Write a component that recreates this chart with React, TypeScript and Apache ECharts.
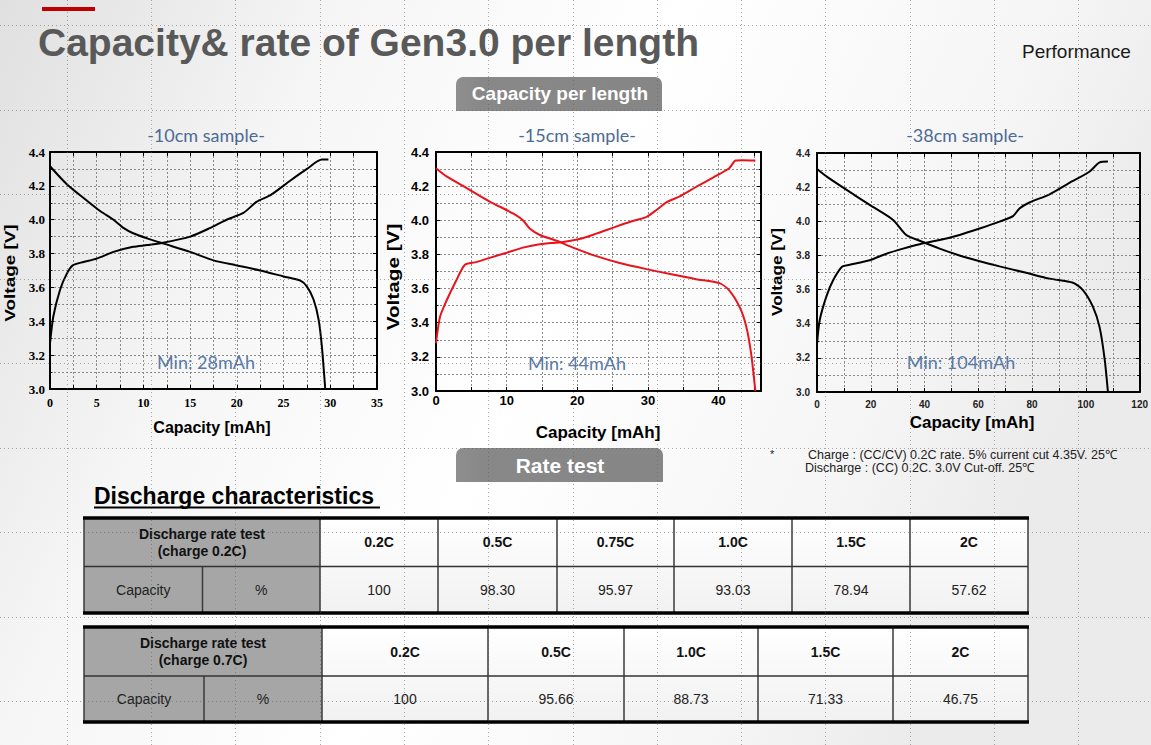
import React, { useEffect, useRef } from 'react';
import * as echarts from 'echarts';

type P = [number, number];

// ---------- DATA ----------
const charge10: P[] = [[0,3.27],[0.36,3.43],[1.07,3.585],[1.79,3.68],[2.43,3.73],[3.57,3.75],[5,3.77],[6.8,3.81],[8.9,3.84],[10.4,3.85],[12.1,3.864],[15,3.9],[17.1,3.95],[18.9,4.0],[20.7,4.04],[22.1,4.105],[23.6,4.145],[25.7,4.23],[27.5,4.3],[29.1,4.355],[29.8,4.355]];
const discharge10: P[] = [[0,4.316],[1.8,4.21],[3.9,4.115],[5.4,4.05],[6.8,4.0],[7.9,3.95],[8.9,3.92],[10.4,3.89],[12.1,3.86],[15,3.81],[17.5,3.76],[20,3.73],[22.5,3.7],[25,3.665],[26.8,3.64],[27.5,3.605],[28.2,3.53],[28.75,3.41],[29.1,3.25],[29.46,3.0]];
const charge15: P[] = [[0,3.28],[0.57,3.435],[1.5,3.53],[2.9,3.65],[4.1,3.74],[5.7,3.755],[7.6,3.78],[10,3.81],[12.3,3.84],[14.7,3.86],[18,3.873],[20.3,3.89],[22.7,3.922],[25.1,3.957],[27.4,3.99],[29.8,4.02],[31.2,4.06],[32.6,4.105],[34.5,4.14],[36.8,4.195],[39.2,4.25],[41.5,4.305],[42.4,4.35],[43.4,4.352],[45.2,4.35]];
const discharge15: P[] = [[0,4.305],[1.5,4.257],[4.3,4.19],[7.6,4.11],[10.9,4.04],[12.3,4.0],[13.3,3.95],[14.7,3.914],[17.1,3.88],[19.4,3.84],[22.7,3.79],[26,3.75],[29.8,3.714],[33.5,3.682],[36.8,3.655],[40.1,3.632],[41.5,3.59],[43,3.49],[43.9,3.38],[44.6,3.22],[45.2,3.0]];
const charge38: P[] = [[0,3.28],[1,3.42],[3.5,3.56],[6,3.655],[9.4,3.735],[12.1,3.745],[19.6,3.772],[25.8,3.81],[32,3.84],[38.2,3.866],[45.6,3.89],[53,3.92],[60.5,3.958],[67.9,3.998],[72.9,4.03],[75.3,4.075],[79,4.11],[86.5,4.158],[93.9,4.225],[101.3,4.29],[105.1,4.345],[108.2,4.35]];
const discharge38: P[] = [[0,4.306],[3.5,4.263],[10.9,4.185],[19.6,4.096],[28.3,4.008],[33.2,3.92],[38.2,3.886],[45.6,3.84],[53,3.8],[60.5,3.766],[67.9,3.736],[77.8,3.698],[86.5,3.664],[95.2,3.64],[98.9,3.597],[102.6,3.5],[105.1,3.38],[107,3.19],[108.2,3.0]];

const sampleTitles = ['-10cm sample-', '-15cm sample-', '-38cm sample-'];
const minLabels = ['Min: 28mAh', 'Min: 44mAh', 'Min: 104mAh'];
const xMaxes = [35, 46, 120];
const xSteps = [2.5, 5, 10];
const xLabelSteps = [5, 10, 20];
const xLabelLimits = [35, 40, 120];
const yMin = 3.0;
const yMax = 4.4;

const rates1 = ['0.2C', '0.5C', '0.75C', '1.0C', '1.5C', '2C'];
const caps1 = ['100', '98.30', '95.97', '93.03', '78.94', '57.62'];
const rates2 = ['0.2C', '0.5C', '1.0C', '1.5C', '2C'];
const caps2 = ['100', '95.66', '88.73', '71.33', '46.75'];
const tableHeads = [['Discharge rate test', '(charge 0.2C)'], ['Discharge rate test', '(charge 0.7C)']];

const footnote1 = 'Charge : (CC/CV) 0.2C rate. 5% current cut 4.35V. 25\u2103';
const footnote2 = 'Discharge : (CC) 0.2C. 3.0V Cut-off. 25\u2103';

// ---------- LAYOUT ----------
const W = 1151;
const H = 745;
const SANS = 'Liberation Sans, Arial, sans-serif';
const CAL = 'Lato, Open Sans, sans-serif';

const chartLayouts = [
  {
    grid: { left: 50, top: 152, width: 327, height: 237 },
    label: { fontFamily: 'Liberation Serif', fontWeight: 'bold', fontSize: 12, color: '#000' },
    yLabelSize: 13, yMargin: 5, xMargin: 8, color: '#000',
    vName: { x: 10, y: 273, size: 14, scale: 1.35 }, cName: { x: 212, y: 427, size: 16 },
    title: { x: 206, y: 135 }, min: { x: 206, y: 362 },
    series: [charge10, discharge10],
  },
  {
    grid: { left: 436, top: 152, width: 325, height: 239 },
    label: { fontFamily: SANS, fontWeight: 'bold', fontSize: 13, color: '#000' },
    yLabelSize: 13, yMargin: 7, xMargin: 3, color: '#e8141c',
    vName: { x: 393, y: 277, size: 17, scale: 1.22 }, cName: { x: 598, y: 432, size: 17 },
    title: { x: 577, y: 135 }, min: { x: 577, y: 363 },
    series: [charge15, discharge15],
  },
  {
    grid: { left: 817, top: 153, width: 323, height: 239 },
    label: { fontFamily: SANS, fontWeight: 'bold', fontSize: 10, color: '#222' },
    yLabelSize: 10, yMargin: 7, xMargin: 7, color: '#000',
    vName: { x: 777, y: 272, size: 14, scale: 1.22 }, cName: { x: 972, y: 422, size: 17 },
    title: { x: 965, y: 135 }, min: { x: 961, y: 362 },
    series: [charge38, discharge38],
  },
];

const table1 = { left: 84, split: 202.5, grayEnd: 320, top: 518, mid: 566.5, bottom: 613, cols: [320, 438, 557, 674, 792, 910, 1028] };
const table2 = { left: 84, split: 204, grayEnd: 322, top: 627, mid: 676, bottom: 722, cols: [322, 488, 624, 758, 893, 1028] };

function txt(text: string, x: number, y: number, o: any = {}) {
  return {
    type: 'text', x, y, z: o.z ?? 60,
    rotation: o.rotation || 0,
    scaleX: o.scaleX || 1,
    style: {
      text,
      fill: o.fill || '#000',
      fontSize: o.size || 14,
      fontFamily: o.family || SANS,
      fontWeight: o.weight || 'normal',
      align: o.align || 'center',
      textAlign: o.align || 'center',
      verticalAlign: 'middle',
      textVerticalAlign: 'middle',
    },
  };
}
function ln(x1: number, y1: number, x2: number, y2: number, stroke: string, lineWidth: number, z = 55, extra: any = {}) {
  return { type: 'line', z, shape: { x1, y1, x2, y2 }, style: { stroke, lineWidth, ...extra } };
}
function rc(x: number, y: number, w: number, h: number, fill: any, z = 40, r: any = 0) {
  return { type: 'rect', z, shape: { x, y, width: w, height: h, r }, style: { fill } };
}

function tableEls(tb: any, heads: string[], rates: string[], caps: string[]) {
  const els: any[] = [];
  const right = tb.cols[tb.cols.length - 1];
  els.push(rc(tb.left, tb.top, tb.grayEnd - tb.left, tb.bottom - tb.top, '#a6a6a6'));
  els.push(rc(tb.grayEnd, tb.top, right - tb.grayEnd, tb.bottom - tb.top,
    new echarts.graphic.LinearGradient(0, 0, 0, 1, [{ offset: 0, color: '#ffffff' }, { offset: 1, color: '#f1f1f1' }])));
  [tb.left, ...tb.cols].forEach((x: number) => els.push(ln(x, tb.top, x, tb.bottom, '#3a3a3a', 1.5)));
  els.push(ln(tb.split, tb.mid, tb.split, tb.bottom, '#3a3a3a', 1.5));
  els.push(ln(tb.left, tb.mid, right, tb.mid, '#333', 1.3));
  els.push(ln(tb.left - 1, tb.top, right + 1, tb.top, '#000', 3.5, 56));
  els.push(ln(tb.left - 1, tb.bottom, right + 1, tb.bottom, '#000', 3.5, 56));
  const gc = (tb.left + tb.grayEnd) / 2;
  els.push(txt(heads[0], gc, tb.top + 15.5, { weight: 'bold', size: 14, fill: '#111' }));
  els.push(txt(heads[1], gc, tb.top + 33, { weight: 'bold', size: 14, fill: '#111' }));
  els.push(txt('Capacity', (tb.left + tb.split) / 2, (tb.mid + tb.bottom) / 2, { size: 14, fill: '#222' }));
  els.push(txt('%', (tb.split + tb.grayEnd) / 2, (tb.mid + tb.bottom) / 2, { size: 14, fill: '#222' }));
  rates.forEach((r, i) => {
    const cx = (tb.cols[i] + tb.cols[i + 1]) / 2;
    els.push(txt(r, cx, (tb.top + tb.mid) / 2, { weight: 'bold', size: 14, fill: '#111' }));
    els.push(txt(caps[i], cx, (tb.mid + tb.bottom) / 2, { size: 14, fill: '#222' }));
  });
  return els;
}

function buildOption() {
  const xAxis: any[] = [];
  const yAxis: any[] = [];
  const series: any[] = [];
  const graphic: any[] = [];

  // background
  graphic.push({
    type: 'rect', z: -100, silent: true, shape: { x: 0, y: 0, width: W, height: H },
    style: {
      fill: new echarts.graphic.LinearGradient(0, 0, 1, 0.3, [
        { offset: 0, color: '#e0e0e0' }, { offset: 0.28, color: '#f6f6f6' },
        { offset: 0.55, color: '#ffffff' }, { offset: 0.85, color: '#f5f5f5' }, { offset: 1, color: '#ebebeb' },
      ]),
    },
  });

  const splitStyle = { color: '#8a8a8a', width: 1, type: [2, 2] };

  chartLayouts.forEach((c, i) => {
    const xBase = {
      type: 'value', gridIndex: i, min: 0, max: xMaxes[i], interval: xSteps[i],
      axisLine: { show: true, onZero: false, lineStyle: { color: '#000', width: 2 } },
      axisTick: { show: true, inside: true, length: 4, lineStyle: { color: '#000', width: 1 } },
    };
    xAxis.push({
      ...xBase, position: 'bottom',
      splitLine: { show: true, lineStyle: splitStyle },
      axisLabel: {
        show: true, margin: c.xMargin, ...c.label, showMaxLabel: i !== 1,
        formatter: (v: number) => {
          const k = Math.round(v / xLabelSteps[i] * 1000) / 1000;
          return Number.isInteger(k) && v <= xLabelLimits[i] ? String(Math.round(v)) : '';
        },
      },
    });
    xAxis.push({ ...xBase, position: 'top', splitLine: { show: false }, axisLabel: { show: false } });

    const yBase = {
      type: 'value', gridIndex: i, min: yMin, max: yMax, interval: 0.2,
      axisLine: { show: true, onZero: false, lineStyle: { color: '#000', width: 2 } },
      axisTick: { show: true, inside: true, length: 4, lineStyle: { color: '#000', width: 1 } },
      minorTick: { show: true, splitNumber: 2, length: 2.5, lineStyle: { color: '#000', width: 1 } },
    };
    yAxis.push({
      ...yBase, position: 'left',
      splitLine: { show: true, lineStyle: splitStyle },
      minorSplitLine: { show: true, lineStyle: splitStyle },
      axisLabel: { show: true, margin: c.yMargin, ...c.label, fontSize: c.yLabelSize, formatter: (v: number) => v.toFixed(1) },
    });
    yAxis.push({ ...yBase, position: 'right', splitLine: { show: false }, axisLabel: { show: false } });

    c.series.forEach((d) => {
      series.push({
        type: 'line', xAxisIndex: 2 * i, yAxisIndex: 2 * i, data: d,
        symbol: 'none', showSymbol: false, smooth: 0.25, silent: true, z: 5,
        lineStyle: { color: c.color, width: 2 },
      });
    });

    graphic.push(txt('Voltage [V]', c.vName.x, c.vName.y, { weight: 'bold', size: c.vName.size, rotation: Math.PI / 2, scaleX: c.vName.scale, fill: '#000' }));
    graphic.push(txt('Capacity [mAh]', c.cName.x, c.cName.y, { weight: 'bold', size: c.cName.size, fill: '#000' }));
    graphic.push(txt(sampleTitles[i], c.title.x, c.title.y, { family: CAL, size: 18, fill: '#4d6b94' }));
    graphic.push(txt(minLabels[i], c.min.x, c.min.y, { family: CAL, size: 18, fill: '#587aa6' }));
  });

  // header
  graphic.push(rc(42, 7, 53, 4, '#c00000', 60));
  graphic.push(txt('Capacity& rate of Gen3.0 per length', 38, 42, { align: 'left', weight: 'bold', size: 39, fill: '#595959' }));
  graphic.push(txt('Performance', 1022, 51, { align: 'left', size: 19, fill: '#1a1a1a' }));

  // buttons
  const btnFill = new echarts.graphic.LinearGradient(0, 0, 1, 0, [
    { offset: 0, color: '#8f8f8f' }, { offset: 0.12, color: '#888888' }, { offset: 1, color: '#868686' },
  ]);
  graphic.push(rc(456, 77, 206, 34, btnFill, 45, [7, 7, 0, 0]));
  graphic.push(txt('Capacity per length', 560, 93, { weight: 'bold', size: 19, fill: '#ffffff' }));
  graphic.push(rc(456, 448, 207, 34, btnFill, 45, [7, 7, 0, 0]));
  graphic.push(txt('Rate test', 560, 465, { weight: 'bold', size: 21, fill: '#ffffff' }));

  // footnote
  graphic.push(txt('*', 770, 454, { align: 'left', size: 11, fill: '#222' }));
  graphic.push(txt(footnote1, 808, 455, { align: 'left', size: 12.5, fill: '#222' }));
  graphic.push(txt(footnote2, 805, 468, { align: 'left', size: 12.5, fill: '#222' }));

  // discharge characteristics
  graphic.push(txt('Discharge characteristics', 94, 496, { align: 'left', weight: 'bold', size: 23, fill: '#000' }));
  graphic.push(ln(94, 507.5, 380, 507.5, '#000', 2, 60));

  graphic.push(...tableEls(table1, tableHeads[0], rates1, caps1));
  graphic.push(...tableEls(table2, tableHeads[1], rates2, caps2));

  // dotted guide overlay
  for (let x = 66.7; x < W; x += 84.3) {
    graphic.push(ln(Math.round(x) + 0.5, 0, Math.round(x) + 0.5, H, '#555', 1, 90, { lineDash: [1, 3], opacity: 0.5 }));
  }
  for (let y = 25; y < H; y += 84.5) {
    graphic.push(ln(0, Math.round(y) + 0.5, W, Math.round(y) + 0.5, '#555', 1, 90, { lineDash: [1, 3], opacity: 0.5 }));
  }

  return {
    animation: false,
    backgroundColor: 'transparent',
    grid: chartLayouts.map((c) => ({ ...c.grid, containLabel: false })),
    xAxis,
    yAxis,
    series,
    graphic: { elements: graphic },
  };
}

export default function App() {
  const ref = useRef<HTMLDivElement>(null);
  useEffect(() => {
    const chart = echarts.init(ref.current!, undefined, { renderer: 'svg', width: W, height: H });
    chart.setOption(buildOption() as any);
    return () => chart.dispose();
  }, []);
  return <div ref={ref} style={{ position: 'absolute', left: 0, top: 0, width: W, height: H }} />;
}
